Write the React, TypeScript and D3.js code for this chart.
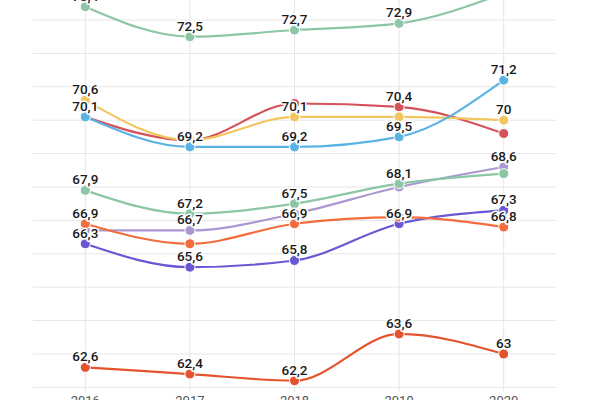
import React from "react";
import * as d3 from "d3";

const years = ["2016", "2017", "2018", "2019", "2020"];
const yTicks = [62, 63, 64, 65, 66, 67, 68, 69, 70, 71, 72, 73, 74];

const greenTop = [73.4, 72.5, 72.7, 72.9, 73.8];
const redMid = [70.1, 69.4, 70.5, 70.4, 69.6];
const yellow = [70.6, 69.4, 70.1, 70.1, 70.0];
const blue = [70.1, 69.2, 69.2, 69.5, 71.2];
const greenMid = [67.9, 67.2, 67.5, 68.1, 68.4];
const lavender = [66.7, 66.7, 67.2, 68.0, 68.6];
const orange = [66.9, 66.3, 66.9, 67.1, 66.8];
const purple = [66.3, 65.6, 65.8, 66.9, 67.3];
const redLow = [62.6, 62.4, 62.2, 63.6, 63.0];

// which data labels are visible in the reference (others hidden by overlap)
const labelsGreenTop = [true, true, true, true, true];
const labelsRedMid = [false, false, false, true, false];
const labelsYellow = [true, false, true, false, true];
const labelsBlue = [true, true, true, true, true];
const labelsGreenMid = [true, true, true, true, false];
const labelsLavender = [false, true, false, false, true];
const labelsOrange = [true, false, true, false, true];
const labelsPurple = [true, true, true, true, true];
const labelsRedLow = [true, true, true, true, true];

const series = [
  { name: "redLow", values: redLow, labels: labelsRedLow, color: "#e4532c" },
  { name: "purple", values: purple, labels: labelsPurple, color: "#6a57d3" },
  { name: "lavender", values: lavender, labels: labelsLavender, color: "#ab97d1" },
  { name: "orange", values: orange, labels: labelsOrange, color: "#f36c3d" },
  { name: "greenMid", values: greenMid, labels: labelsGreenMid, color: "#8cc6a4" },
  { name: "redMid", values: redMid, labels: labelsRedMid, color: "#d4525a" },
  { name: "yellow", values: yellow, labels: labelsYellow, color: "#f1c65e" },
  { name: "blue", values: blue, labels: labelsBlue, color: "#5ab3e2" },
  { name: "greenTop", values: greenTop, labels: labelsGreenTop, color: "#8cc6a4" },
];

const fmt = (v: number) => String(v).replace(".", ",");

export default function App() {
  const W = 600;
  const H = 400;
  const x = d3.scaleBand<string>().domain(years).range([33, 556]).padding(0);
  const y = d3.scaleLinear().domain([62, 74]).range([387.4, -13.4]);
  const cx = (yr: string) => (x(yr) as number) + x.bandwidth() / 2;

  const line = d3
    .line<number>()
    .x((_, i) => cx(years[i]))
    .y((d) => y(d))
    .curve(d3.curveMonotoneX);

  return (
    <svg
      width={W}
      height={H}
      style={{ position: "absolute", left: 0, top: 0, fontFamily: "Roboto, sans-serif" }}
    >
      <rect width={W} height={H} fill="#ffffff" />
      <g>
        {yTicks.map((t) => (
          <line key={t} x1={33} x2={556} y1={y(t)} y2={y(t)} stroke="#e6e6e6" strokeWidth={1} />
        ))}
        {years.map((yr) => (
          <line key={yr} x1={cx(yr)} x2={cx(yr)} y1={-20} y2={392} stroke="#e6e6e6" strokeWidth={1} />
        ))}
      </g>
      {series.map((s) => (
        <g key={s.name}>
          <path d={line(s.values) || ""} fill="none" stroke={s.color} strokeWidth={2.2} />
          {s.values.map((v, i) => (
            <circle key={i} cx={cx(years[i])} cy={y(v)} r={5} fill={s.color} stroke="#ffffff" strokeWidth={1} />
          ))}
        </g>
      ))}
      <g>
        {series.map((s) =>
          s.values.map((v, i) =>
            s.labels[i] ? (
              <text
                key={s.name + i}
                x={cx(years[i])}
                y={y(v) - 6}
                textAnchor="middle"
                fontSize={13.5}
                fontWeight={500}
                fill="#1a1a1a"
                stroke="#ffffff"
                strokeWidth={3}
                strokeLinejoin="round"
                style={{ paintOrder: "stroke" }}
              >
                {fmt(v)}
              </text>
            ) : null
          )
        )}
      </g>
      <g>
        {years.map((yr) => (
          <text key={yr} x={cx(yr)} y={405} textAnchor="middle" fontSize={13} fill="#555555">
            {yr}
          </text>
        ))}
      </g>
    </svg>
  );
}
